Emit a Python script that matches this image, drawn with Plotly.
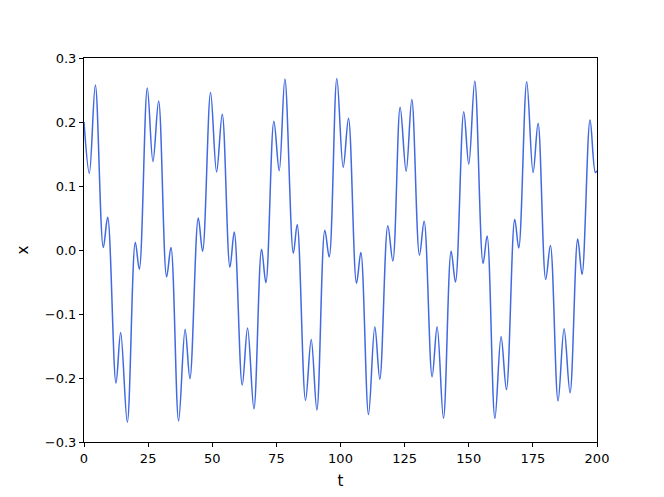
import plotly.graph_objects as go

# turning points of the signal
t_points = [
    0.0, 2.08, 4.42, 7.53, 9.22, 12.47, 14.29, 16.88, 20.0, 21.56,
    24.68, 26.88, 29.09, 32.21, 33.90, 36.89, 39.42, 41.30, 44.55, 46.24,
    49.35, 51.69, 53.90, 56.89, 58.58, 61.69, 63.77, 66.24, 69.23, 70.91,
    74.03, 76.11, 78.32, 81.62, 83.12, 86.37, 88.58, 90.79, 93.90, 95.59,
    98.58, 101.05, 103.12, 106.24, 107.93, 110.92, 113.38, 115.33, 118.45, 120.40,
    123.26, 125.59, 127.80, 130.79, 132.61, 135.72, 137.67, 140.14, 143.13, 144.82,
    148.06, 150.01, 152.35, 155.59, 157.15, 160.2, 162.6, 164.69, 167.93, 169.49,
    172.61, 175.08, 177.03, 180.01, 181.83, 184.82, 187.16, 189.49, 192.48, 194.17,
    197.29, 199.36, 200.0,
]
x_points = [
    0.200, 0.120, 0.258, 0.004, 0.051, -0.208, -0.129, -0.269, 0.012, -0.030,
    0.253, 0.138, 0.233, -0.042, 0.004, -0.267, -0.124, -0.201, 0.050, -0.002,
    0.246, 0.122, 0.212, -0.027, 0.028, -0.211, -0.122, -0.248, 0.001, -0.051,
    0.201, 0.124, 0.267, -0.005, 0.040, -0.235, -0.140, -0.250, 0.031, -0.011,
    0.268, 0.129, 0.206, -0.052, -0.004, -0.257, -0.120, -0.202, 0.038, -0.017,
    0.223, 0.123, 0.235, -0.008, 0.045, -0.198, -0.120, -0.263, -0.002, -0.050,
    0.216, 0.134, 0.264, -0.021, 0.022, -0.263, -0.135, -0.218, 0.048, 0.003,
    0.263, 0.121, 0.198, -0.046, 0.007, -0.236, -0.123, -0.223, 0.017, -0.038,
    0.203, 0.121, 0.124,
]

x_ticks = [0, 25, 50, 75, 100, 125, 150, 175, 200]
y_ticks = [-0.3, -0.2, -0.1, 0.0, 0.1, 0.2, 0.3]

fig = go.Figure()
fig.add_trace(go.Scatter(
    x=t_points, y=x_points, mode="lines",
    line=dict(color="#4169E1", width=1.5, shape="spline", smoothing=1.0),
    showlegend=False, hoverinfo="skip",
))

axis_style = dict(
    showline=True, linecolor="black", linewidth=1, mirror=True,
    ticks="outside", ticklen=4, tickcolor="black", showgrid=False, zeroline=False,
    tickfont=dict(family="DejaVu Sans", size=13, color="black"),
)
fig.update_xaxes(range=[0, 200], tickvals=x_ticks,
                 title=dict(text="t", font=dict(family="DejaVu Sans", size=15, color="black"), standoff=10),
                 **axis_style)
fig.update_yaxes(range=[-0.3, 0.3], tickvals=y_ticks, tickformat=".1f",
                 title=dict(text="x", font=dict(family="DejaVu Sans", size=15, color="black"), standoff=12),
                 **axis_style)
# the page body adds an 8px offset, so the figure is drawn 8px smaller
fig.update_layout(
    width=656, height=489,
    margin=dict(l=76, r=67, t=50, b=55),
    paper_bgcolor="white", plot_bgcolor="white",
)
fig.write_html("out.html")
